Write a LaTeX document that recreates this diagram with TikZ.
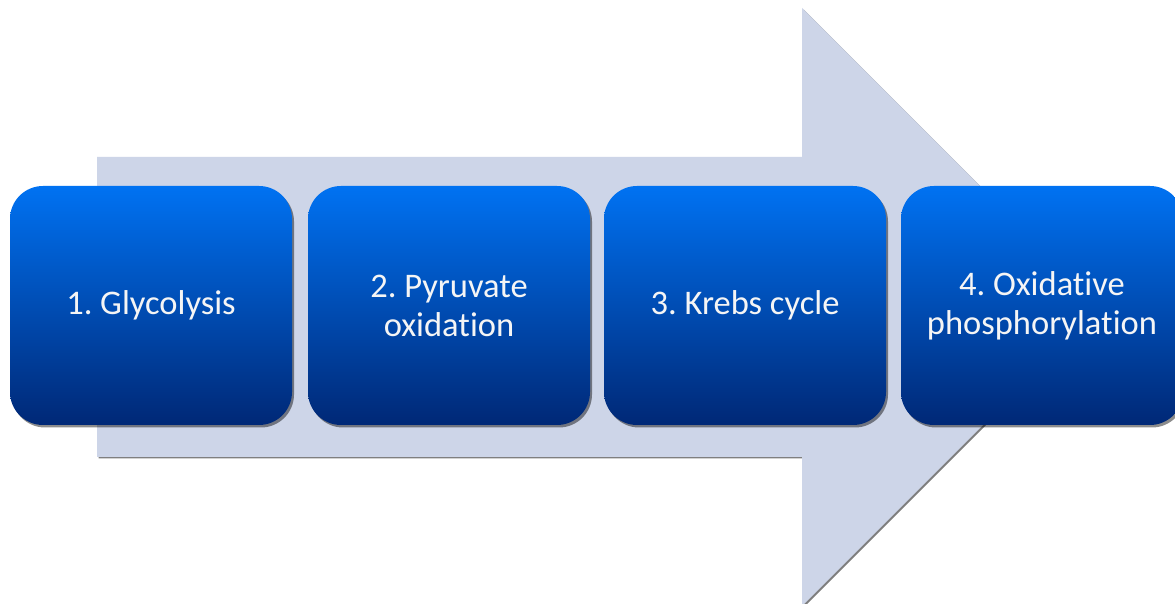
\documentclass[tikz,border=0pt]{standalone}
\usepackage{fontspec}
\setmainfont{Carlito}[Ligatures={NoCommon,NoRare}]
\frenchspacing
\usetikzlibrary{shadows}
\definecolor{arrowfill}{RGB}{205,213,232}
\definecolor{boxtop}{RGB}{0,114,242}
\definecolor{boxmid}{RGB}{0,78,190}
\definecolor{boxbot}{RGB}{0,40,118}
\definecolor{txt}{RGB}{245,245,245}
\tikzset{
  stepbox/.style={minimum width=282pt, minimum height=239pt, inner sep=0pt,
    rounded corners=33pt, top color=boxtop, middle color=boxmid, bottom color=boxbot,
    align=center, text=txt, font=\fontsize{34.5}{39}\selectfont,
    drop shadow={shadow xshift=2pt, shadow yshift=-2.5pt, opacity=0.45, fill=black}},
  bigarrow/.style={fill=arrowfill,
    drop shadow={shadow xshift=1.5pt, shadow yshift=-1.5pt, opacity=0.5, fill=black}}
}
\begin{document}
\begin{tikzpicture}[x=1pt,y=1pt]
\useasboundingbox[fill=white] (0,0) rectangle (1175,604);
\begin{scope}
\clip (0,0) rectangle (1175,604);
\coordinate (tip) at (1101,297);
\path[bigarrow] (97,447) -- (802,447) -- (802,596) -- (tip) -- (802,-2) -- (802,147) -- (97,147) -- cycle;
\node[stepbox] (b1) at (151,298.5) {1. Glycolysis};
\node[stepbox] (b2) at (449,298.5) {2. Pyruvate\\oxidation};
\node[stepbox] (b3) at (745,298.5) {3. Krebs cycle};
\node[stepbox] (b4) at (1042,298.5) {4. Oxidative\\phosphorylation};
\end{scope}
\end{tikzpicture}
\end{document}
